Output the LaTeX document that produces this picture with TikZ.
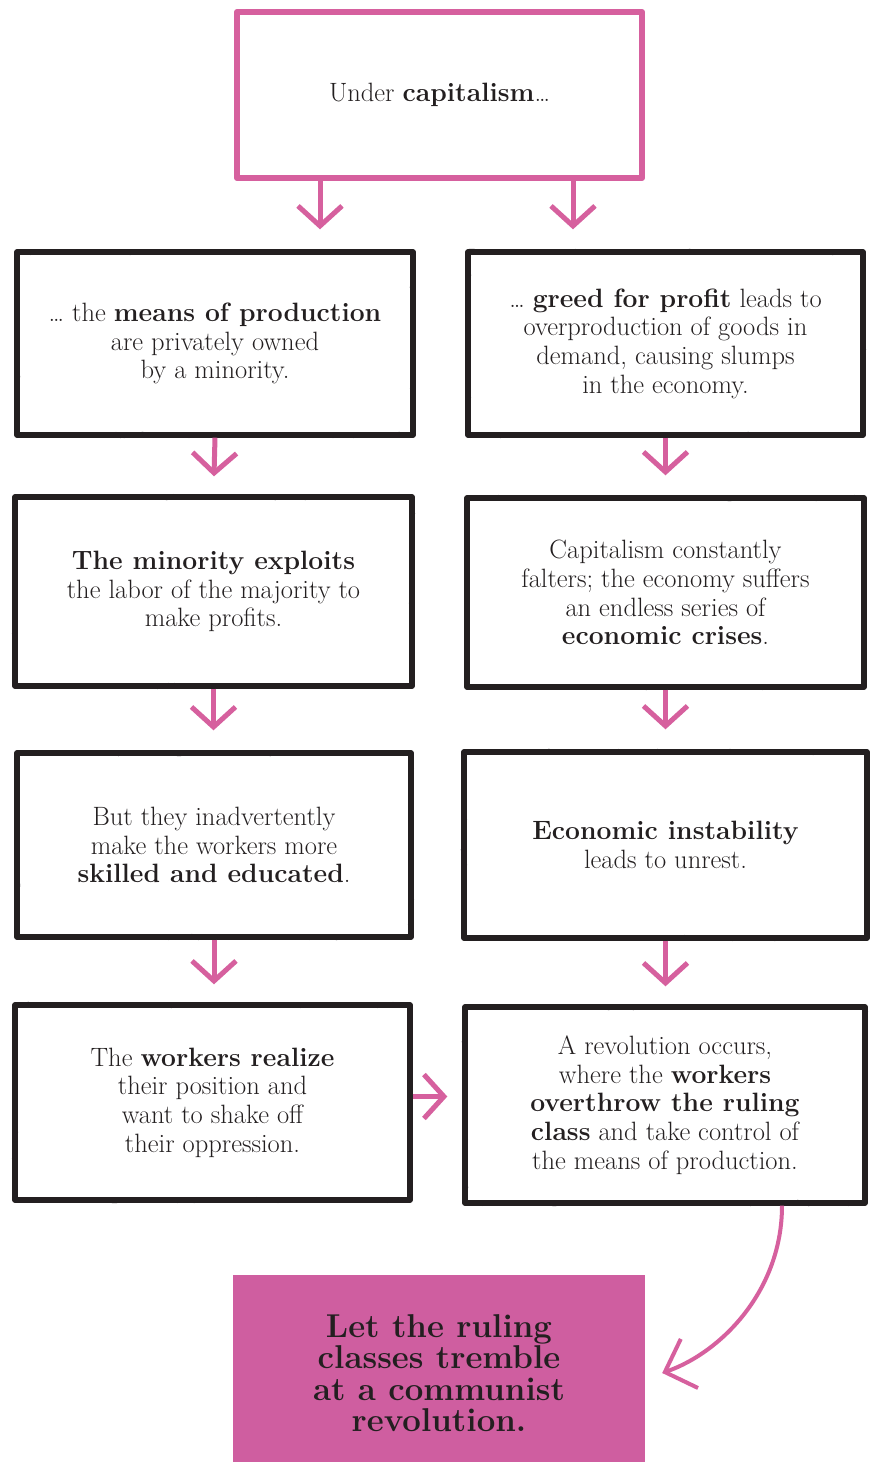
\documentclass[tikz,border=0pt]{standalone}
\usepackage{fontspec}
\usetikzlibrary{arrows.meta,decorations.pathmorphing}
\definecolor{ink}{HTML}{231F20}
\definecolor{pinkline}{HTML}{D6609E}
\definecolor{pinkfill}{HTML}{CF5EA0}
\pgfmathsetseed{7}
\begin{document}
\begin{tikzpicture}[x=1pt,y=-1pt,
  basebox/.style={inner sep=0pt, align=center, text=ink,
    font=\fontsize{26.5}{28.7}\selectfont},
  inkbox/.style={basebox, draw=ink, line width=5.4pt, line join=round,
    postaction={draw=ink, line width=2.2pt, decorate,
      decoration={random steps, segment length=3pt, amplitude=2pt}}},
  pinkbox/.style={basebox, draw=pinkline, line width=6pt, line join=round},
  endbox/.style={inner sep=0pt, align=center, text=ink, fill=pinkfill,
    font=\fontsize{33}{31.5}\selectfont\bfseries},
  parr/.style={draw=pinkline, line width=5pt,
    -{Straight Barb[length=20pt, width=44pt, line width=5pt]}},
  carr/.style={draw=pinkline, line width=4pt,
    -{Straight Barb[length=26pt, width=52pt, line width=4pt]}}
]
\fill[white] (0,0) rectangle (870,1462);
\useasboundingbox (0,0) rectangle (870,1462);

\node[pinkbox, minimum width=405pt, minimum height=166pt] (top) at (439.5,95)
  {Under \textbf{capitalism}\ldots};

\node[inkbox, minimum width=396pt, minimum height=183pt] (L1) at (215,343.5)
  {\ldots\ the \textbf{means of production}\\ are privately owned\\ by a minority.};
\node[inkbox, minimum width=395pt, minimum height=183pt] (R1) at (665.5,343.5)
  {\ldots\ \textbf{greed for profit} leads to\\ overproduction of goods in\\ demand, causing slumps\\ in the economy.};

\node[inkbox, minimum width=397pt, minimum height=189pt] (L2) at (213.5,591.5)
  {\textbf{The minority exploits}\\ the labor of the majority to\\ make profits.};
\node[inkbox, minimum width=397pt, minimum height=189pt] (R2) at (665.5,592.5)
  {Capitalism constantly\\ falters; the economy suffers\\ an endless series of\\ \textbf{economic crises}.};

\node[inkbox, minimum width=394pt, minimum height=184pt] (L3) at (214,845)
  {But they inadvertently\\ make the workers more\\ \textbf{skilled and educated}.};
\node[inkbox, minimum width=403pt, minimum height=186pt] (R3) at (665.5,845)
  {\textbf{Economic instability}\\ leads to unrest.};

\node[inkbox, minimum width=395pt, minimum height=195pt] (L4) at (212.5,1102.5)
  {The \textbf{workers realize}\\ their position and\\ want to shake off\\ their oppression.};
\node[inkbox, minimum width=400pt, minimum height=196pt] (R4) at (665,1105)
  {A revolution occurs,\\ where the \textbf{workers}\\ \textbf{overthrow the ruling}\\ \textbf{class} and take control of\\ the means of production.};

\node[endbox, minimum width=412pt, minimum height=196pt] (Bot) at (439,1373)
  {Let the ruling\\ classes tremble\\ at a communist\\ revolution.};

\coordinate (ax1) at (320,0);
\coordinate (ax2) at (573,0);
\draw[parr, shorten >=20pt] (top.south -| ax1) -- (L1.north -| ax1);
\draw[parr, shorten >=20pt] (top.south -| ax2) -- (R1.north -| ax2);

\draw[parr, shorten >=18pt] (L1.south) -- (L2.north);
\draw[parr, shorten >=20pt] (R1.south) -- (R2.north);
\draw[parr, shorten >=20pt] (L2.south) -- (L2.south |- L3.north);
\draw[parr, shorten >=20pt] (R2.south) -- (R2.south |- R3.north);
\draw[parr, shorten >=18pt] (L3.south) -- (L3.south |- L4.north);
\draw[parr, shorten >=18pt] (R3.south) -- (R3.south |- R4.north);

\draw[parr, shorten >=15pt] ([yshift=6pt]L4.east) -- ([yshift=6pt]L4.east -| R4.west);

\draw[carr] ([xshift=117pt]R4.south) .. controls (782,1290) and (722,1352) .. ([xshift=17pt]Bot.east);
\end{tikzpicture}
\end{document}
